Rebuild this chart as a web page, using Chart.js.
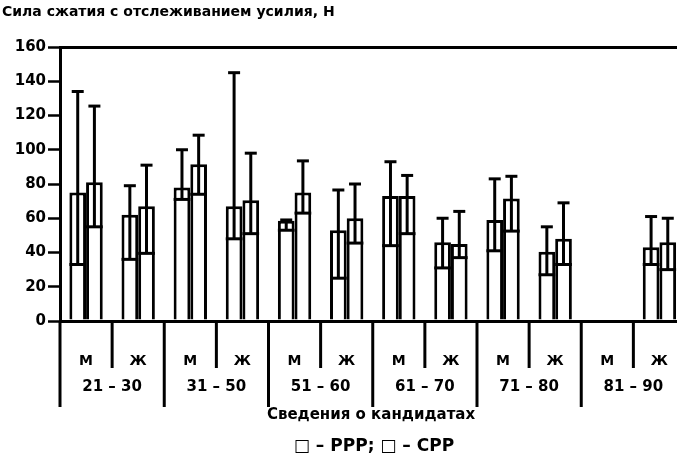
<!DOCTYPE HTML>
<html>
<head>
    <meta charset="UTF-8">
    <title>Сила сжатия</title>
    <script src="https://cdn.jsdelivr.net/npm/chart.js"></script>
    <style>
        html, body { margin: 0; padding: 0; background: #fff; overflow: hidden; }
    </style>
</head>
<body>
    <canvas id="myChart" width="700" height="458"></canvas>
    <script>
        // categories and groups
        var categories = ['М', 'Ж', 'М', 'Ж', 'М', 'Ж', 'М', 'Ж', 'М', 'Ж', 'М', 'Ж'];
        var groups = ['21 – 30', '31 – 50', '51 – 60', '61 – 70', '71 – 80', '81 – 90'];
        var yTicks = [0, 20, 40, 60, 80, 100, 120, 140, 160];

        // PPP: mean, lower and upper error
        var ppp = [75, 62, 78, 67, 58.5, 53, 73, 46, 59, 40.5, null, 43];
        var pppLow = [33, 36, 71, 48, 53, 25, 44, 31, 41, 27, null, 33];
        var pppHigh = [134, 79, 100, 145, 59, 76.5, 93, 60, 83, 55, null, 61];

        // CPP: mean, lower and upper error
        var cpp = [81, 67, 91.5, 70.5, 75, 60, 73, 45, 71.5, 48, null, 46];
        var cppLow = [55, 39.5, 74, 51, 63, 45.5, 51, 37, 52.5, 33, null, 30];
        var cppHigh = [125.5, 91, 108.5, 98, 93.5, 80, 85, 64, 84.5, 69, null, 60];

        var titleText = 'Сила сжатия с отслеживанием усилия, Н';
        var xTitle = 'Сведения о кандидатах';
        var legendText = '□ – PPP; □ – CPP';

        Chart.defaults.font.family = "'DejaVu Sans', sans-serif";
        Chart.defaults.font.weight = 'bold';
        Chart.defaults.color = '#000';

        function line(ctx, x1, y1, x2, y2) {
            ctx.beginPath();
            ctx.moveTo(x1, y1);
            ctx.lineTo(x2, y2);
            ctx.stroke();
        }

        var errorBars = {
            id: 'errorBars',
            afterDatasetsDraw: function (chart) {
                var ctx = chart.ctx, y = chart.scales.y;
                [[pppLow, pppHigh], [cppLow, cppHigh]].forEach(function (pair, d) {
                    chart.getDatasetMeta(d).data.forEach(function (bar, i) {
                        if (pair[0][i] == null) return;
                        var x = bar.x, w = bar.width;
                        var yl = y.getPixelForValue(pair[0][i]);
                        var yh = y.getPixelForValue(pair[1][i]);
                        ctx.save();
                        ctx.strokeStyle = '#000';
                        ctx.lineWidth = 3;
                        line(ctx, x, yl, x, yh);
                        line(ctx, x - 6, yh, x + 6, yh);
                        line(ctx, x - w / 2, yl, x + w / 2, yl);
                        ctx.restore();
                    });
                });
            }
        };

        var extras = {
            id: 'extras',
            afterDraw: function (chart) {
                var ctx = chart.ctx, xs = chart.scales.x, area = chart.chartArea;
                var half = (xs.getPixelForValue(1) - xs.getPixelForValue(0)) / 2;
                ctx.save();
                ctx.strokeStyle = '#000';
                ctx.lineWidth = 3;
                for (var i = 0; i < categories.length; i++) {
                    var px = i === 0 ? area.left : xs.getPixelForValue(i) - half;
                    line(ctx, px, area.bottom, px, i % 2 === 0 ? 407 : 368);
                }
                ctx.fillStyle = '#000';
                ctx.textAlign = 'center';
                ctx.textBaseline = 'middle';
                ctx.font = "bold 15px 'DejaVu Sans'";
                groups.forEach(function (g, j) {
                    var gx = xs.getPixelForValue(2 * j) + half;
                    ctx.fillText(g, gx, 387);
                });
                ctx.font = "bold 15px 'DejaVu Sans'";
                ctx.fillText(xTitle, 371, 415);
                ctx.font = "bold 17px 'DejaVu Sans'";
                ctx.fillText(legendText, 374, 447);
                ctx.textAlign = 'left';
                ctx.font = "bold 14px 'DejaVu Sans'";
                ctx.fillText(titleText, 2, 12);
                ctx.restore();
            }
        };

        var ctx = document.getElementById('myChart').getContext('2d');
        var chart = new Chart(ctx, {
            type: 'bar',
            data: {
                labels: categories,
                datasets: [{
                    label: 'PPP',
                    data: ppp,
                    backgroundColor: '#fff',
                    borderColor: '#000',
                    borderWidth: 3,
                    barPercentage: 1,
                    categoryPercentage: 0.64
                }, {
                    label: 'CPP',
                    data: cpp,
                    backgroundColor: '#fff',
                    borderColor: '#000',
                    borderWidth: 3,
                    barPercentage: 1,
                    categoryPercentage: 0.64
                }]
            },
            options: {
                responsive: false,
                animation: false,
                layout: { padding: { top: 47, left: 0, right: 0, bottom: 0 } },
                plugins: {
                    legend: { display: false },
                    tooltip: { enabled: false }
                },
                scales: {
                    x: {
                        grid: { drawOnChartArea: false, drawTicks: false },
                        border: { display: true, color: '#000', width: 3 },
                        ticks: { padding: 32, font: { size: 14, weight: 'bold' } },
                        afterFit: function (s) { s.height = 137; }
                    },
                    y: {
                        min: 0,
                        max: 160,
                        afterBuildTicks: function (s) { s.ticks = yTicks.map(function (v) { return { value: v }; }); },
                        grid: {
                            color: function (c) { return c.tick && c.tick.value === 160 ? '#000' : 'rgba(0,0,0,0)'; },
                            lineWidth: 3,
                            tickColor: '#000',
                            tickWidth: 2.5,
                            tickLength: 12
                        },
                        border: { display: true, color: '#000', width: 3 },
                        ticks: { padding: 2, font: { size: 15, weight: 'bold' } },
                        afterFit: function (s) { s.width = 60; }
                    }
                }
            },
            plugins: [errorBars, extras]
        });
    </script>
</body>
</html>
